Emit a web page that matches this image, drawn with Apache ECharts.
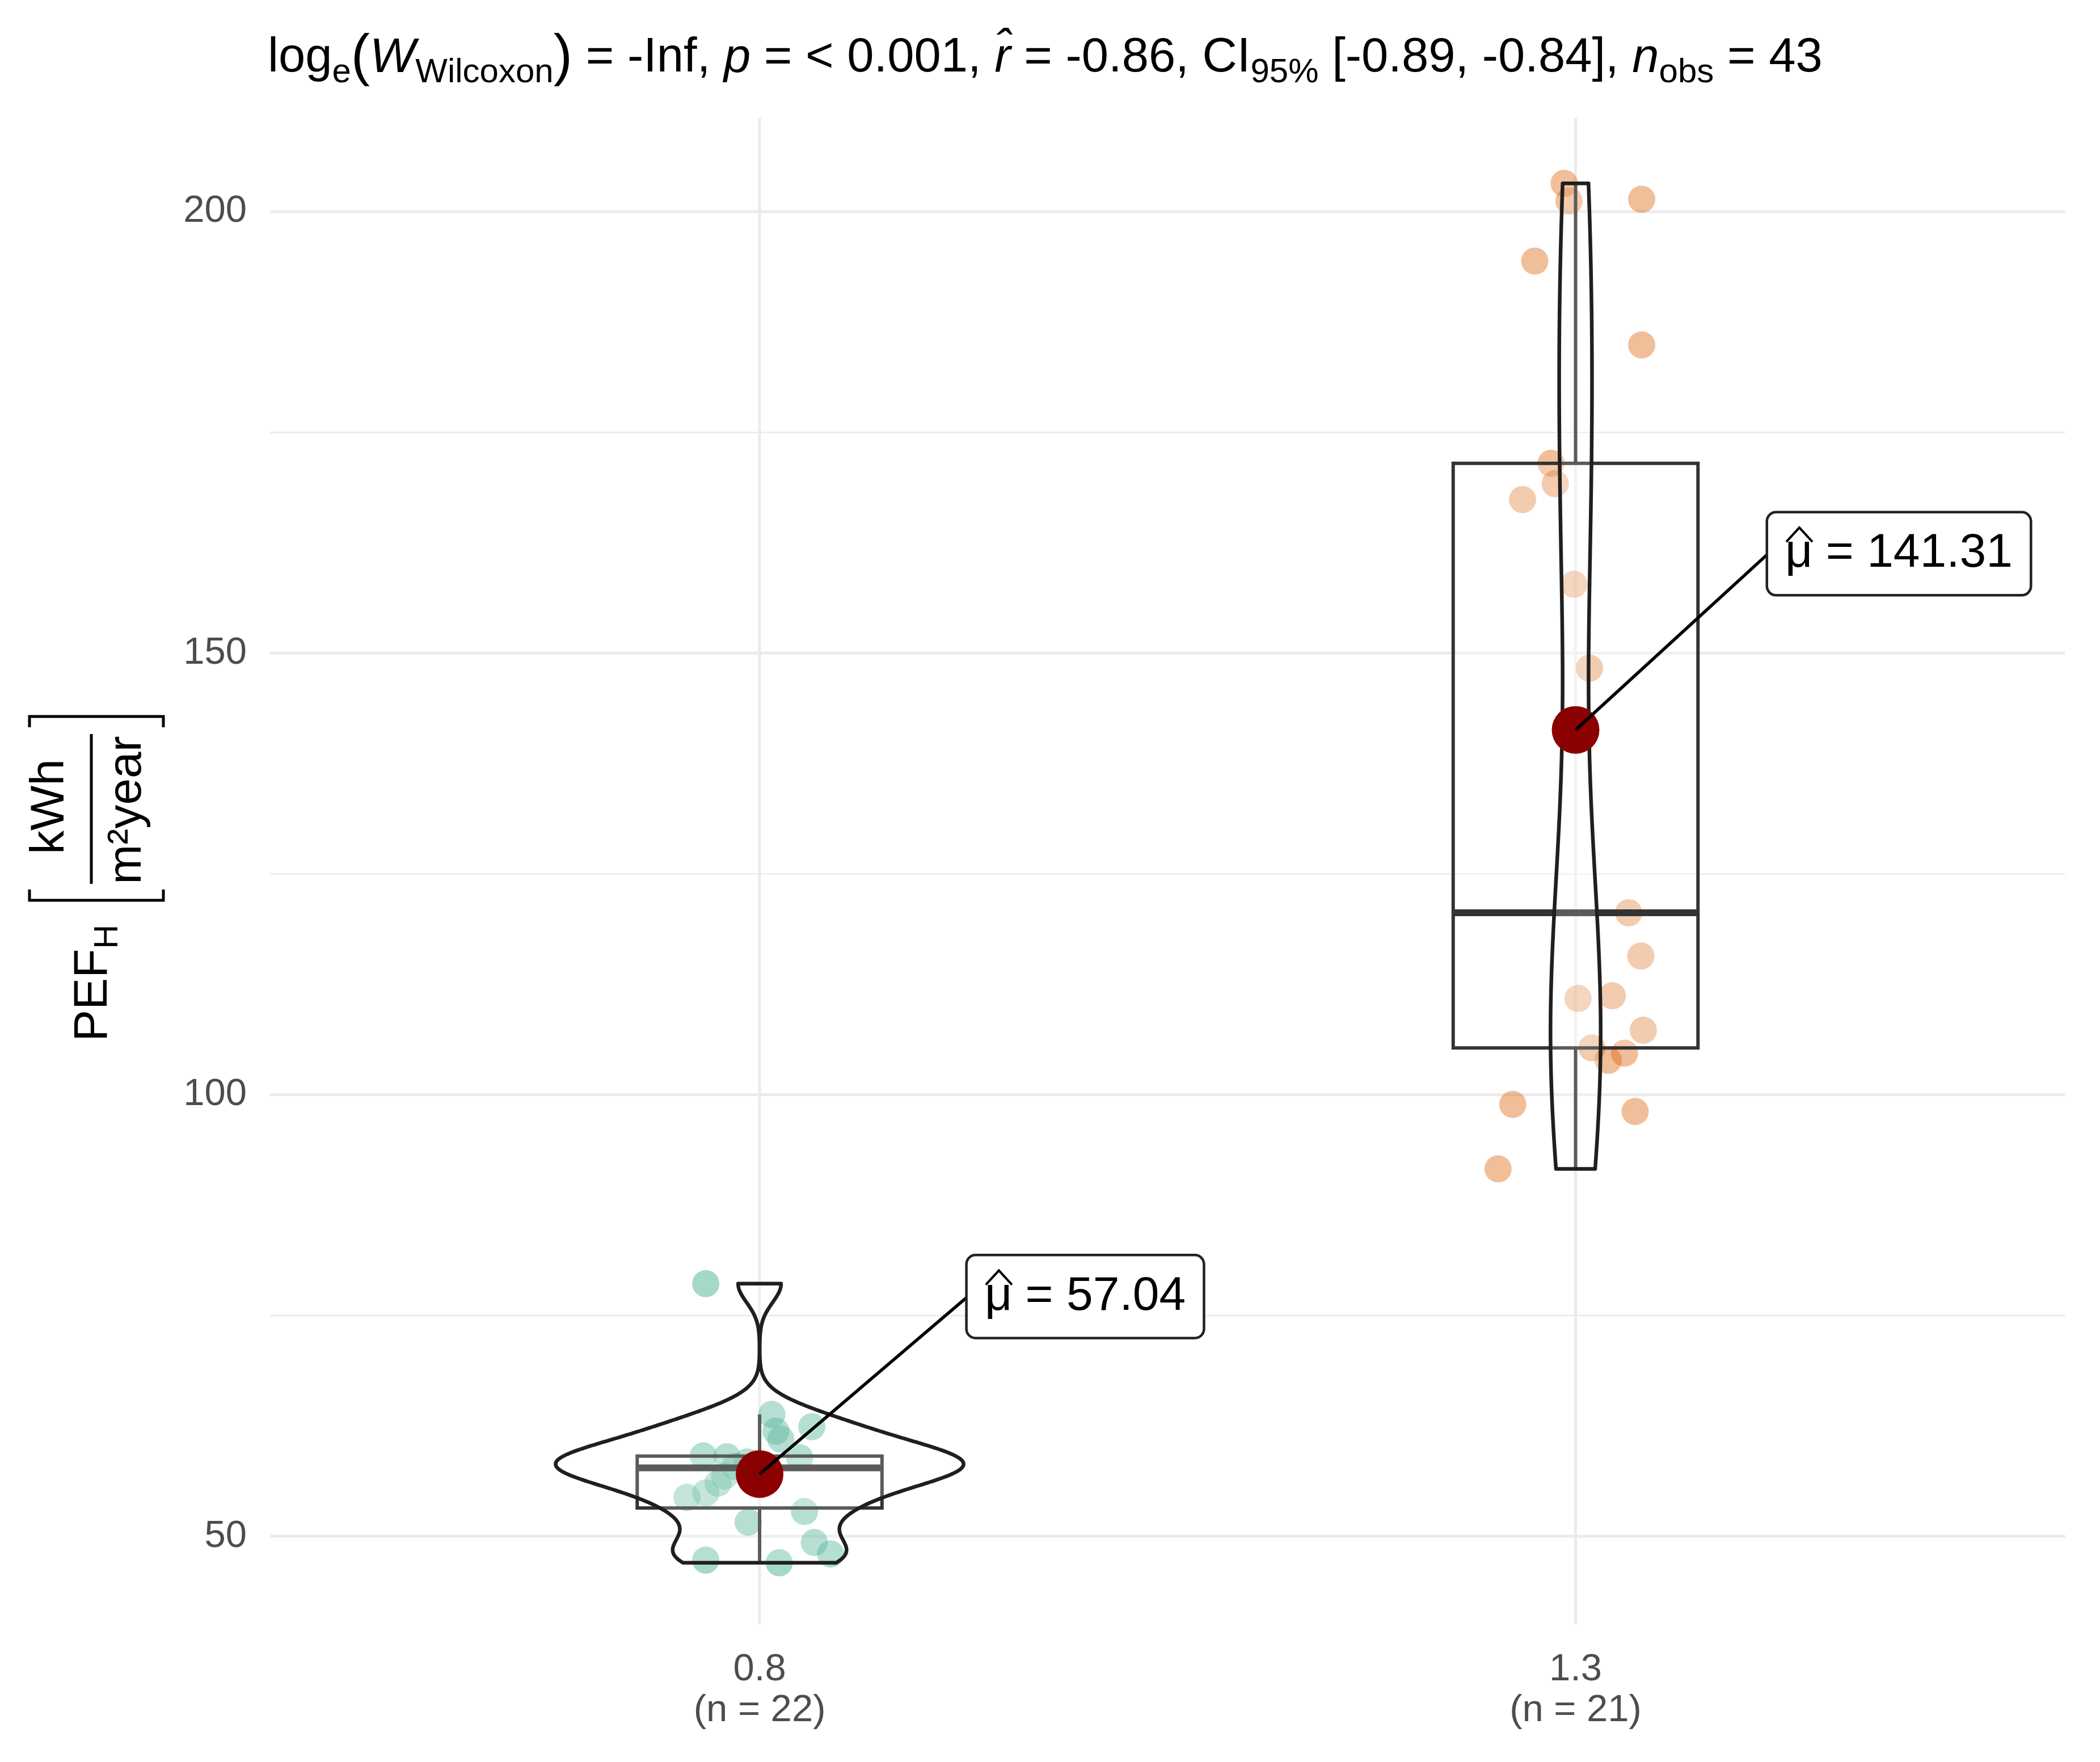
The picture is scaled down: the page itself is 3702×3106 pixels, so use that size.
<!DOCTYPE html>
<html><head><meta charset="utf-8">
<script src="https://cdn.jsdelivr.net/npm/echarts@6/dist/echarts.min.js"></script>
<style>html,body{margin:0;padding:0;background:#fff}#c{width:3702px;height:3106px}</style>
</head><body><div id="c"></div>
<script>
// ---------------- data ----------------
const categories = ['0.8', '1.3'];
const values08 = [78.6, 63.8, 62.4, 61.9, 61.0, 59.1, 59.0, 58.9, 58.4, 58.2, 57.9, 57.6, 56.8, 56.0, 54.9, 54.4, 52.8, 51.6, 49.3, 48.0, 47.3, 47.0];
const jitter08 = [0.934, 1.015, 1.064, 1.020, 1.026, 0.931, 0.960, 1.049, 0.985, 1.000, 0.970, 1.005, 0.957, 0.949, 0.934, 0.911, 1.055, 0.986, 1.067, 1.087, 0.934, 1.024];
const values13 = [203.2, 201.2, 201.4, 194.4, 184.9, 171.5, 169.2, 167.4, 157.8, 148.3, 120.6, 115.7, 110.9, 111.2, 107.3, 105.3, 104.7, 103.9, 98.9, 98.1, 91.6];
const jitter13 = [1.986, 1.992, 2.081, 1.950, 2.081, 1.970, 1.975, 1.935, 1.998, 2.017, 2.065, 2.080, 2.003, 2.045, 2.083, 2.020, 2.060, 2.040, 1.923, 2.073, 1.905];
const yMajorTicks = [50, 100, 150, 200];
const yMinorTicks = [75, 125, 175];
const xTicks = [1, 2];
const titleStats = ['-Inf', '< 0.001', '-0.86', '[-0.89, -0.84]', '43'];

// ---------------- layout / style ----------------
const FONT = '"Liberation Sans", Arial, Helvetica, sans-serif';
const X_MIN = 0.4, X_MAX = 2.6, Y_MIN = 40, Y_MAX = 210.6;
const LABEL_OFFSET = [[0.255, 20.1], [0.236, 19.95]];
const COLORS = ['#1B9E77', '#D95F02'];

// ---------------- statistics (derived from data) ----------------
function q7(s, p) { const h = (s.length - 1) * p, lo = Math.floor(h), hi = Math.ceil(h); return s[lo] + (h - lo) * (s[hi] - s[lo]); }
function groupStats(vals) {
  const s = vals.slice().sort((a, b) => a - b), n = s.length;
  const mean = s.reduce((a, b) => a + b, 0) / n;
  const q1 = q7(s, 0.25), med = q7(s, 0.5), q3 = q7(s, 0.75), iqr = q3 - q1;
  const whiskHi = Math.max(...s.filter(v => v <= q3 + 1.5 * iqr));
  const whiskLo = Math.min(...s.filter(v => v >= q1 - 1.5 * iqr));
  const sd = Math.sqrt(s.reduce((a, v) => a + (v - mean) * (v - mean), 0) / (n - 1));
  const bw = 0.9 * Math.min(sd, iqr / 1.34) * Math.pow(n, -0.2);
  const dens = [];
  for (let i = 0; i < 512; i++) {
    const y = s[0] + (s[n - 1] - s[0]) * i / 511;
    let d = 0;
    for (const v of s) { const z = (y - v) / bw; d += Math.exp(-0.5 * z * z); }
    dens.push([y, d / (n * bw * Math.sqrt(2 * Math.PI))]);
  }
  return { n, mean, q1, med, q3, whiskHi, whiskLo, dens };
}
const stats = [groupStats(values08), groupStats(values13)];
const maxDens = Math.max(...stats.map(st => Math.max(...st.dens.map(d => d[1]))));

// ---------------- chart ----------------
const chart = echarts.init(document.getElementById('c'), null, { renderer: 'canvas', width: 3702, height: 3106 });

const gridLines = [];
yMajorTicks.forEach(v => gridLines.push([X_MIN, v, 0]));
yMinorTicks.forEach(v => gridLines.push([X_MIN, v, 1]));
xTicks.forEach(v => gridLines.push([v, Y_MIN, 2]));

function renderGrid(params, api) {
  const kind = api.value(2);
  let a, b;
  if (kind === 2) { a = api.coord([api.value(0), Y_MIN]); b = api.coord([api.value(0), Y_MAX]); }
  else { a = api.coord([X_MIN, api.value(1)]); b = api.coord([X_MAX, api.value(1)]); }
  return { type: 'line', shape: { x1: a[0], y1: a[1], x2: b[0], y2: b[1] },
    style: { stroke: '#EBEBEB', lineWidth: kind === 1 ? 2.6 : 5 } };
}

function renderBoxViolin(params, api) {
  const g = params.dataIndex, st = stats[g], cx = g + 1;
  const ch = [];
  const w1 = api.coord([cx, st.q3]), w2 = api.coord([cx, st.whiskHi]);
  const w3 = api.coord([cx, st.q1]), w4 = api.coord([cx, st.whiskLo]);
  const ls = { stroke: '#333333', lineWidth: 6 };
  ch.push({ type: 'line', shape: { x1: w1[0], y1: w1[1], x2: w2[0], y2: w2[1] }, style: ls });
  ch.push({ type: 'line', shape: { x1: w3[0], y1: w3[1], x2: w4[0], y2: w4[1] }, style: ls });
  const tl = api.coord([cx - 0.15, st.q3]), br = api.coord([cx + 0.15, st.q1]);
  ch.push({ type: 'rect', shape: { x: tl[0], y: tl[1], width: br[0] - tl[0], height: br[1] - tl[1] },
    style: { fill: 'rgba(255,255,255,0.2)', stroke: '#333333', lineWidth: 6 } });
  const m1 = api.coord([cx - 0.15, st.med]), m2 = api.coord([cx + 0.15, st.med]);
  ch.push({ type: 'line', shape: { x1: m1[0], y1: m1[1], x2: m2[0], y2: m2[1] }, style: { stroke: '#333333', lineWidth: 12 } });
  const pts = [];
  st.dens.forEach(d => pts.push(api.coord([cx + d[1] / maxDens * 0.25, d[0]])));
  for (let i = st.dens.length - 1; i >= 0; i--) { const d = st.dens[i]; pts.push(api.coord([cx - d[1] / maxDens * 0.25, d[0]])); }
  ch.push({ type: 'polygon', shape: { points: pts }, style: { fill: 'rgba(255,255,255,0.2)', stroke: '#1F1F1F', lineWidth: 6.5, lineJoin: 'round' } });
  return { type: 'group', children: ch };
}

function renderLabel(params, api) {
  const g = params.dataIndex, st = stats[g], cx = g + 1;
  const p = api.coord([cx, st.mean]);
  const a = api.coord([cx + LABEL_OFFSET[g][0], st.mean + LABEL_OFFSET[g][1]]);
  const mx = a[0] + 30 + 25, my = a[1];
  return { type: 'group', children: [
    { type: 'line', shape: { x1: p[0], y1: p[1], x2: a[0], y2: a[1] }, style: { stroke: '#000', lineWidth: 5.5 } },
    { type: 'text', x: a[0], y: a[1], style: {
      text: '\u03BC = ' + st.mean.toFixed(2), fontSize: 84, fontFamily: FONT, fill: '#000',
      align: 'left', verticalAlign: 'middle', textAlign: 'left', textVerticalAlign: 'middle',
      backgroundColor: '#fff', borderColor: '#222', borderWidth: 4.5, borderRadius: 14,
      padding: [26, 30, 26, 30], lineHeight: 90 } },
    { type: 'polyline', shape: { points: [[mx - 23, my - 21], [mx, my - 46], [mx + 23, my - 21]] },
      style: { stroke: '#000', lineWidth: 4, fill: null } }
  ] };
}

const titleText = '{n|log}{s|e}{p|(}{i|W}{s|Wilcoxon}{p|)}{n| = ' + titleStats[0] + ', }{i|p}{n| = ' + titleStats[1] +
  ', }{i|r\u0302}{n| = ' + titleStats[2] + ', CI}{s|95%}{n| ' + titleStats[3] + ', }{i|n}{s|obs}{n| = ' + titleStats[4] + '}';

const option = {
  animation: false,
  backgroundColor: '#fff',
  title: {
    text: titleText, left: 472, top: 48, padding: 0,
    textStyle: { fontWeight: 'normal', rich: {
      n: { fontSize: 85, lineHeight: 110, fontFamily: FONT, fontWeight: 'normal', color: '#000' },
      i: { fontSize: 85, lineHeight: 110, fontFamily: FONT, fontWeight: 'normal', fontStyle: 'italic', color: '#000' },
      p: { fontSize: 100, lineHeight: 110, fontFamily: FONT, fontWeight: 'normal', color: '#000' },
      s: { fontSize: 60, lineHeight: 58, verticalAlign: 'bottom', fontFamily: FONT, fontWeight: 'normal', color: '#000' }
    } }
  },
  grid: { left: 476, right: 3702 - 3640.6, top: 208, bottom: 3106 - 2863.7, containLabel: false },
  xAxis: {
    type: 'value', min: X_MIN, max: X_MAX,
    axisLine: { show: false }, axisTick: { show: false }, splitLine: { show: false },
    axisLabel: {
      customValues: xTicks, margin: 44, fontSize: 67, lineHeight: 72, fontFamily: FONT, color: '#4D4D4D',
      formatter: v => { const i = Math.round(v) - 1; return categories[i] + '\n(n = ' + stats[i].n + ')'; }
    }
  },
  yAxis: {
    type: 'value', min: Y_MIN, max: Y_MAX,
    axisLine: { show: false }, axisTick: { show: false }, splitLine: { show: false },
    axisLabel: { customValues: yMajorTicks, margin: 41, fontSize: 67, fontFamily: FONT, color: '#4D4D4D' }
  },
  graphic: [{
    type: 'group', x: 161, y: 1550, rotation: Math.PI / 2, silent: true,
    children: [
      { type: 'text', x: -80, y: 4, style: {
        text: '{a|PEF}{b|H}', align: 'right', verticalAlign: 'middle', textAlign: 'right', textVerticalAlign: 'middle',
        rich: { a: { fontSize: 84, lineHeight: 110, fontFamily: FONT, fill: '#000', color: '#000' },
                b: { fontSize: 59, lineHeight: 58, verticalAlign: 'bottom', fontFamily: FONT, fill: '#000', color: '#000' } } } },
      { type: 'text', x: 128, y: -72, style: { text: 'kWh', fontSize: 84, fontFamily: FONT, fill: '#000',
        align: 'center', verticalAlign: 'middle', textAlign: 'center', textVerticalAlign: 'middle' } },
      { type: 'text', x: 122, y: 64, style: { text: 'm\u00B2year', fontSize: 84, fontFamily: FONT, fill: '#000',
        align: 'center', verticalAlign: 'middle', textAlign: 'center', textVerticalAlign: 'middle' } },
      { type: 'line', shape: { x1: -8, y1: 0, x2: 256, y2: 0 }, style: { stroke: '#000', lineWidth: 5 } },
      { type: 'polyline', shape: { points: [[-18, -109], [-37, -109], [-37, 127], [-18, 127]] }, style: { stroke: '#000', lineWidth: 5, fill: null } },
      { type: 'polyline', shape: { points: [[268, -109], [287, -109], [287, 127], [268, 127]] }, style: { stroke: '#000', lineWidth: 5, fill: null } }
    ]
  }],
  series: [
    { type: 'custom', name: 'grid', silent: true, clip: false, z: 0, renderItem: renderGrid, data: gridLines },
    { type: 'scatter', name: categories[0], silent: true, z: 2, symbolSize: 48,
      itemStyle: { color: COLORS[0], opacity: 0.4 }, data: values08.map((v, i) => [jitter08[i], v]) },
    { type: 'scatter', name: categories[1], silent: true, z: 2, symbolSize: 48,
      itemStyle: { color: COLORS[1], opacity: 0.4 }, data: values13.map((v, i) => [jitter13[i], v]) },
    { type: 'custom', name: 'box', silent: true, clip: false, z: 3, renderItem: renderBoxViolin,
      data: stats.map((st, i) => [i + 1, st.med]) },
    { type: 'scatter', name: 'mean', silent: true, z: 4, symbolSize: 84,
      itemStyle: { color: '#8B0000', opacity: 1 }, data: stats.map((st, i) => [i + 1, st.mean]) },
    { type: 'custom', name: 'label', silent: true, clip: false, z: 5, renderItem: renderLabel,
      data: stats.map((st, i) => [i + 1, st.mean]) }
  ]
};
chart.setOption(option);
</script>
</body></html>
